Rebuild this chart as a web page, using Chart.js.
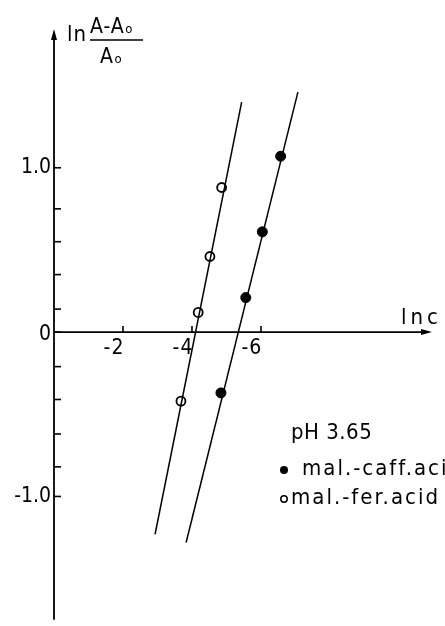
<!DOCTYPE html>
<html lang="en">
<head>
<meta charset="UTF-8">
<title>ln((A-A0)/A0) vs ln c</title>
<style>
  html, body { margin: 0; padding: 0; background: #fff; }
  .chart-box { position: relative; width: 445px; height: 626px; }
</style>
<script src="https://cdn.jsdelivr.net/npm/chart.js"></script>
</head>
<body>
<div class="chart-box"><canvas id="grafico"></canvas></div>

<script>
    // measured points, x = ln c, y = ln((A-A0)/A0)
    const caffX = [-4.84, -5.56, -6.04, -6.57];
    const caffY = [-0.37, 0.21, 0.61, 1.07];
    const ferX = [-3.68, -4.18, -4.52, -4.86];
    const ferY = [-0.42, 0.12, 0.46, 0.88];

    // fitted straight lines (end points)
    const caffLineX = [-3.83, -7.07];
    const caffLineY = [-1.28, 1.46];
    const ferLineX = [-2.93, -5.44];
    const ferLineY = [-1.23, 1.40];

    // axis ticks
    const xTickValues = [-2, -4, -6];
    const xTickLabels = ['-2', '-4', '-6'];
    const yTickValues = [1.0, 0, -1.0];
    const yTickLabels = ['1.0', '0', '-1.0'];
    const yMinorTicks = [0.75, 0.55, 0.35, 0.14, -0.21, -0.41, -0.62, -0.82];

    const legendTitle = 'pH 3.65';
    const caffLabel = 'mal.-caff.acid';
    const ferLabel = 'mal.-fer.acid';

    const FONT = "'DejaVu Sans Condensed', 'Liberation Sans Narrow', 'DejaVu Sans', sans-serif";

    function toPoints(xs, ys) {
        return xs.map((x, i) => ({ x: x, y: ys[i] }));
    }

    // text with a small "o" subscript right after it
    function textWithSub(ctx, txt, x, y, size) {
        ctx.font = size + 'px ' + FONT;
        ctx.fillText(txt, x, y);
        const w = ctx.measureText(txt).width;
        ctx.font = Math.round(size * 0.62) + 'px ' + FONT;
        ctx.fillText('o', x + w + 0.5, y);
    }

    // axes through the origin, arrows, ticks and labels
    const axesPlugin = {
        id: 'axesThroughZero',
        beforeDatasetsDraw(chart) {
            const ctx = chart.ctx;
            const sx = chart.scales.x;
            const sy = chart.scales.y;
            const x0 = sx.getPixelForValue(0);
            const y0 = sy.getPixelForValue(0);
            const top = chart.chartArea.top;
            const bottom = chart.chartArea.bottom;
            const right = chart.chartArea.right;

            ctx.save();
            ctx.strokeStyle = '#000';
            ctx.fillStyle = '#000';
            ctx.lineWidth = 1.8;

            // y axis
            ctx.beginPath();
            ctx.moveTo(x0, bottom);
            ctx.lineTo(x0, top + 4);
            ctx.stroke();
            ctx.beginPath();
            ctx.moveTo(x0, top - 4);
            ctx.lineTo(x0 - 3, top + 7);
            ctx.lineTo(x0 + 3, top + 7);
            ctx.closePath();
            ctx.fill();

            // x axis
            ctx.beginPath();
            ctx.moveTo(x0, y0);
            ctx.lineTo(right - 4, y0);
            ctx.stroke();
            ctx.beginPath();
            ctx.moveTo(right + 2, y0);
            ctx.lineTo(right - 9, y0 - 3);
            ctx.lineTo(right - 9, y0 + 3);
            ctx.closePath();
            ctx.fill();

            // y ticks
            ctx.lineWidth = 1.6;
            yTickValues.concat(yMinorTicks).forEach(v => {
                const py = sy.getPixelForValue(v);
                ctx.beginPath();
                ctx.moveTo(x0, py);
                ctx.lineTo(x0 + 7, py);
                ctx.stroke();
            });

            // x ticks
            xTickValues.forEach(v => {
                const px = sx.getPixelForValue(v);
                ctx.beginPath();
                ctx.moveTo(px, y0);
                ctx.lineTo(px, y0 - 6);
                ctx.stroke();
            });

            ctx.font = '21px ' + FONT;
            ctx.textBaseline = 'middle';
            ctx.textAlign = 'right';
            yTickValues.forEach((v, i) => {
                ctx.fillText(yTickLabels[i], x0 - 3, sy.getPixelForValue(v) + (v === 0 ? 2 : 0));
            });
            ctx.textAlign = 'center';
            ctx.textBaseline = 'top';
            ctx.letterSpacing = '1px';
            xTickValues.forEach((v, i) => {
                ctx.fillText(xTickLabels[i], sx.getPixelForValue(v) - 9, y0 + 6);
            });

            // axis titles
            ctx.textAlign = 'left';
            ctx.textBaseline = 'alphabetic';
            ctx.font = '22px ' + FONT;
            ctx.letterSpacing = '4px';
            ctx.fillText('lnc', right - 29, y0 - 8);
            ctx.letterSpacing = '1px';

            ctx.font = '22px ' + FONT;
            ctx.fillText('ln', x0 + 13, top + 8);
            textWithSub(ctx, 'A-A', x0 + 36, top, 21);
            ctx.lineWidth = 1.4;
            ctx.beginPath();
            ctx.moveTo(x0 + 36, top + 7);
            ctx.lineTo(x0 + 89, top + 7);
            ctx.stroke();
            textWithSub(ctx, 'A', x0 + 46, top + 30, 21);
            ctx.restore();
        },
        afterDatasetsDraw(chart) {
            const ctx = chart.ctx;
            ctx.save();
            ctx.fillStyle = '#000';
            ctx.strokeStyle = '#000';
            ctx.font = '22px ' + FONT;
            ctx.textBaseline = 'middle';
            ctx.textAlign = 'left';
            ctx.letterSpacing = '0.5px';
            ctx.fillText(legendTitle, 291, 433);

            // filled marker row
            ctx.letterSpacing = '2px';
            ctx.beginPath();
            ctx.arc(284, 470, 4, 0, Math.PI * 2);
            ctx.fill();
            ctx.fillText(caffLabel, 302, 469);

            // open marker row
            ctx.lineWidth = 1.5;
            ctx.beginPath();
            ctx.arc(284, 499, 3.2, 0, Math.PI * 2);
            ctx.stroke();
            ctx.fillText(ferLabel, 291, 498);
            ctx.restore();
        }
    };

    new Chart(document.getElementById('grafico'), {
        type: 'scatter',
        data: {
            datasets: [{
                label: 'caff fit',
                data: toPoints(caffLineX, caffLineY),
                showLine: true,
                borderColor: '#000',
                borderWidth: 1.5,
                pointRadius: 0
            }, {
                label: 'fer fit',
                data: toPoints(ferLineX, ferLineY),
                showLine: true,
                borderColor: '#000',
                borderWidth: 1.5,
                pointRadius: 0
            }, {
                label: caffLabel,
                data: toPoints(caffX, caffY),
                pointRadius: 5,
                pointBackgroundColor: '#000',
                pointBorderColor: '#000',
                pointBorderWidth: 1
            }, {
                label: ferLabel,
                data: toPoints(ferX, ferY),
                pointRadius: 4.5,
                pointBackgroundColor: '#fff',
                pointBorderColor: '#000',
                pointBorderWidth: 1.8
            }]
        },
        options: {
            responsive: true,
            maintainAspectRatio: false,
            animation: false,
            layout: { padding: { left: 54, right: 15, top: 33, bottom: 0 } },
            scales: {
                x: { type: 'linear', reverse: true, min: -10.9, max: 0, display: false },
                y: { type: 'linear', min: -1.75, max: 1.82, display: false }
            },
            plugins: {
                legend: { display: false },
                tooltip: { enabled: false }
            }
        },
        plugins: [axesPlugin]
    });
</script>
</body>
</html>
